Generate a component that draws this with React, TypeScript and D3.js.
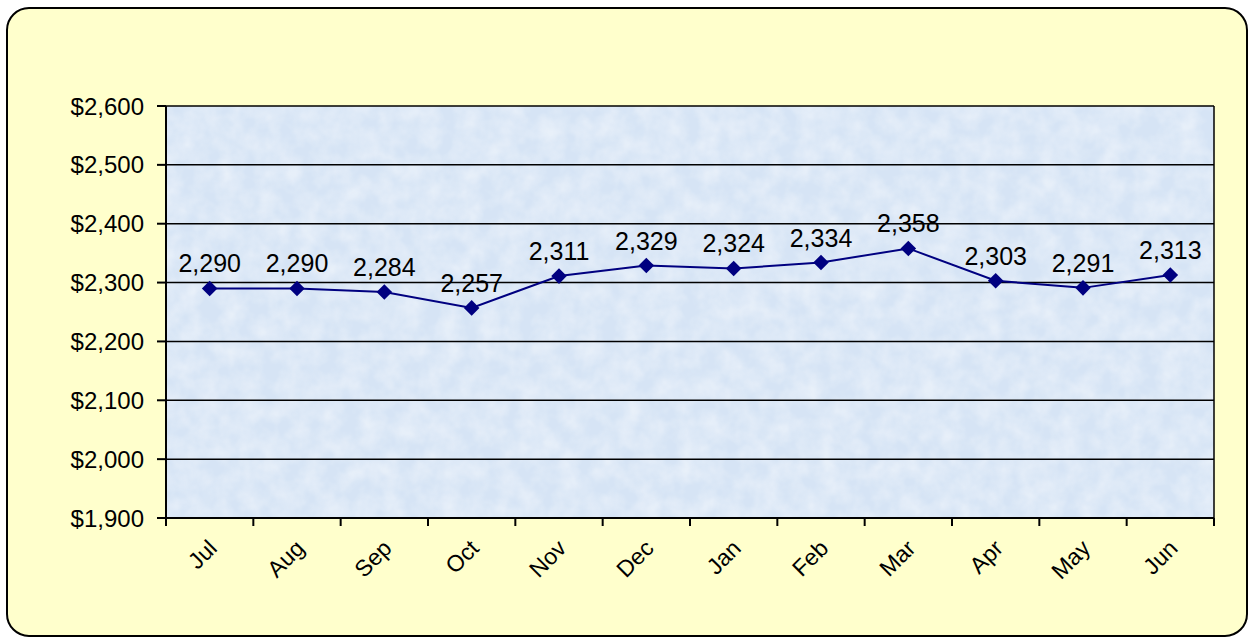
import React from "react";
import * as d3 from "d3";

// monthly values, Jul -> Jun
const months = ["Jul", "Aug", "Sep", "Oct", "Nov", "Dec", "Jan", "Feb", "Mar", "Apr", "May", "Jun"];
const values = [2290, 2290, 2284, 2257, 2311, 2329, 2324, 2334, 2358, 2303, 2291, 2313];
const yTicks = [1900, 2000, 2100, 2200, 2300, 2400, 2500, 2600];

const W = 1250;
const H = 638;
const margin = { left: 166, right: 36, top: 106, bottom: 120 };

const App = () => {
  const x = d3
    .scaleBand<string>()
    .domain(months)
    .range([margin.left, W - margin.right]);
  const y = d3
    .scaleLinear()
    .domain([1900, 2600])
    .range([H - margin.bottom, margin.top]);

  const cx = (m: string) => (x(m) ?? 0) + x.bandwidth() / 2;
  const line = d3
    .line<number>()
    .x((_, i) => cx(months[i]))
    .y((d) => y(d));

  const fmt = d3.format(",");
  const x0 = margin.left;
  const x1 = W - margin.right;
  const y0 = H - margin.bottom;
  const y1 = margin.top;
  // boundaries between months, where the tick marks go
  const bounds = months.map((m) => x(m) ?? 0).concat([x1]);

  return (
    <svg width={W} height={H} style={{ position: "absolute", left: 0, top: 0 }} fontFamily="'Liberation Sans', Arial, sans-serif">
      <defs>
        <filter id="paper" x="0" y="0" width="100%" height="100%">
          <feTurbulence type="fractalNoise" baseFrequency="0.05" numOctaves={3} seed={4} result="n" />
          <feColorMatrix
            in="n"
            type="matrix"
            values="0 0 0 0 1  0 0 0 0 1  0 0 0 0 1  0 0 0 -1.6 1.15"
          />
        </filter>
      </defs>
      <rect x={7} y={8} width={1240} height={628} rx={22} fill="#ffffcc" stroke="#000" strokeWidth={2} />

      {/* plot area */}
      <rect x={x0} y={y1} width={x1 - x0} height={y0 - y1} fill="#d6e4f5" />
      <rect x={x0} y={y1} width={x1 - x0} height={y0 - y1} filter="url(#paper)" opacity={0.45} />

      {/* gridlines */}
      {yTicks.map((t) => (
        <line key={t} x1={x0} x2={x1} y1={y(t)} y2={y(t)} stroke="#000" strokeWidth={1.5} />
      ))}
      <line x1={x1} x2={x1} y1={y1} y2={y0} stroke="#000" strokeWidth={1.5} />

      {/* y axis */}
      <line x1={x0} x2={x0} y1={y1} y2={y0} stroke="#000" strokeWidth={2} />
      {yTicks.map((t) => (
        <g key={t}>
          <line x1={x0 - 9} x2={x0} y1={y(t)} y2={y(t)} stroke="#000" strokeWidth={2} />
          <text x={x0 - 22} y={y(t)} dy="0.36em" textAnchor="end" fontSize={24} fill="#000">
            ${fmt(t)}
          </text>
        </g>
      ))}

      {/* x axis */}
      <line x1={x0} x2={x1} y1={y0} y2={y0} stroke="#000" strokeWidth={2} />
      {bounds.map((b, i) => (
        <line key={i} x1={b} x2={b} y1={y0} y2={y0 + 8} stroke="#000" strokeWidth={2} />
      ))}
      {months.map((m) => (
        <text
          key={m}
          transform={`translate(${cx(m) + 3},${y0 + 26}) rotate(-45)`}
          textAnchor="end"
          dy="0.35em"
          fontSize={23}
          fill="#000"
        >
          {m}
        </text>
      ))}

      {/* series */}
      <path d={line(values) ?? ""} fill="none" stroke="#000080" strokeWidth={2} />
      {values.map((v, i) => (
        <rect
          key={i}
          x={-5.5}
          y={-5.5}
          width={11}
          height={11}
          fill="#000080"
          transform={`translate(${cx(months[i])},${y(v)}) rotate(45)`}
        />
      ))}
      {values.map((v, i) => (
        <text key={i} x={cx(months[i])} y={y(v) - 16} textAnchor="middle" fontSize={25} fill="#000">
          {fmt(v)}
        </text>
      ))}
    </svg>
  );
};

export default App;
